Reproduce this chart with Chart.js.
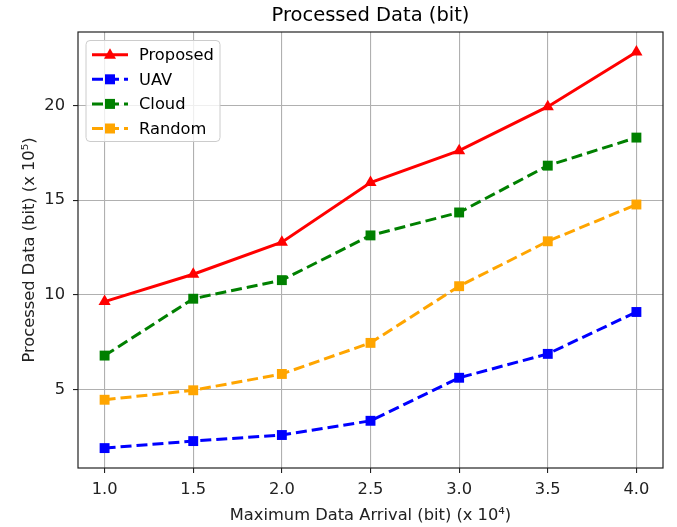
<!DOCTYPE html>
<html>
<head>
<meta charset="utf-8">
<script src="https://cdn.jsdelivr.net/npm/chart.js@4"></script>
<style>
  html, body { margin: 0; padding: 0; background: #fff; }
  #wrap { width: 677px; height: 527px; }
</style>
</head>
<body>
<div id="wrap"><canvas id="myChart"></canvas></div>
<script>
const xValues = [1.0, 1.5, 2.0, 2.5, 3.0, 3.5, 4.0];
const xTicks = [1.0, 1.5, 2.0, 2.5, 3.0, 3.5, 4.0];
const yTicks = [5, 10, 15, 20];

const proposed = [9.65, 11.09, 12.78, 15.93, 17.61, 19.93, 22.82];
const uav = [1.92, 2.29, 2.61, 3.36, 5.63, 6.89, 9.10];
const cloud = [6.80, 9.80, 10.78, 13.14, 14.35, 16.82, 18.30];
const random = [4.47, 4.97, 5.83, 7.47, 10.46, 12.83, 14.77];

const FONT = 'DejaVu Sans';
const FS = 16.3;

function pts(vals) {
  return vals.map((v, i) => ({ x: xValues[i], y: v }));
}

function series(label, vals, color, style, dash) {
  return {
    label: label,
    data: pts(vals),
    borderColor: color,
    backgroundColor: color,
    borderWidth: 3,
    borderDash: dash,
    pointStyle: style,
    pointRadius: 7,
    pointBorderWidth: 0,
    pointHoverRadius: 7,
    tension: 0,
  };
}

const data = {
  datasets: [
    series('Proposed', proposed, '#ff0000', 'triangle', []),
    series('UAV', uav, '#0000ff', 'rect', [11, 5]),
    series('Cloud', cloud, '#008000', 'rect', [11, 5]),
    series('Random', random, '#ffa500', 'rect', [11, 5]),
  ],
};

// axes box, title and matplotlib-style legend
const mplDecor = {
  id: 'mplDecor',
  afterDatasetsDraw(chart) {
    const { ctx, chartArea: { left, right, top, bottom } } = chart;
    ctx.save();
    ctx.strokeStyle = '#222';
    ctx.lineWidth = 1.2;
    ctx.strokeRect(left, top, right - left, bottom - top);

    ctx.fillStyle = '#000';
    ctx.font = '19.5px "' + FONT + '"';
    ctx.textAlign = 'center';
    ctx.textBaseline = 'middle';
    ctx.fillText('Processed Data (bit)', (left + right) / 2, 16);

    // legend
    const bx = 86, by = 40.5, bw = 134, bh = 101;
    ctx.beginPath();
    ctx.roundRect(bx, by, bw, bh, 4);
    ctx.fillStyle = 'rgba(255,255,255,0.8)';
    ctx.fill();
    ctx.strokeStyle = '#cccccc';
    ctx.lineWidth = 1;
    ctx.stroke();

    chart.data.datasets.forEach((ds, i) => {
      const y = 54.7 + i * 24.6;
      ctx.strokeStyle = ds.borderColor;
      ctx.lineWidth = ds.borderWidth;
      ctx.setLineDash(ds.borderDash);
      ctx.beginPath();
      ctx.moveTo(92, y);
      ctx.lineTo(128, y);
      ctx.stroke();
      ctx.setLineDash([]);
      ctx.fillStyle = ds.backgroundColor;
      const cx = 110;
      ctx.beginPath();
      if (ds.pointStyle === 'triangle') {
        ctx.moveTo(cx, y - 6.5);
        ctx.lineTo(cx + 6, y + 4);
        ctx.lineTo(cx - 6, y + 4);
        ctx.closePath();
      } else {
        ctx.rect(cx - 5, y - 5, 10, 10);
      }
      ctx.fill();
      ctx.fillStyle = '#000';
      ctx.font = FS + 'px "' + FONT + '"';
      ctx.textAlign = 'left';
      ctx.fillText(ds.label, 139, y + 1);
    });
    ctx.restore();
  },
};

const config = {
  type: 'line',
  data: data,
  options: {
    responsive: false,
    animation: false,
    devicePixelRatio: 1,
    layout: { padding: { top: 32, right: 14, bottom: 0, left: 0 } },
    plugins: {
      legend: { display: false },
      title: { display: false },
      tooltip: { enabled: false },
    },
    scales: {
      x: {
        type: 'linear',
        min: 0.85,
        max: 4.15,
        afterFit(scale) { scale.height = 59; },
        afterBuildTicks(scale) { scale.ticks = xTicks.map(v => ({ value: v })); },
        grid: { color: '#b0b0b0', lineWidth: 1.1, tickColor: '#222', tickLength: 5 },
        border: { display: false },
        ticks: {
          color: '#222',
          font: { family: FONT, size: FS },
          padding: 7,
          maxRotation: 0,
          callback: v => v.toFixed(1),
        },
        title: {
          display: true,
          text: 'Maximum Data Arrival (bit) (x 10\u2074)',
          color: '#222',
          font: { family: FONT, size: FS },
          padding: { top: 0, bottom: 1 },
        },
      },
      y: {
        min: 0.87,
        max: 23.87,
        afterFit(scale) { scale.width = 78; },
        afterBuildTicks(scale) { scale.ticks = yTicks.map(v => ({ value: v })); },
        grid: { color: '#b0b0b0', lineWidth: 1.1, tickColor: '#222', tickLength: 5 },
        border: { display: false },
        ticks: {
          color: '#222',
          font: { family: FONT, size: FS },
          padding: 8,
        },
        title: {
          display: true,
          text: 'Processed Data (bit) (x 10\u2075)',
          color: '#222',
          font: { family: FONT, size: FS },
          padding: { top: 20, bottom: 0 },
        },
      },
    },
  },
  plugins: [mplDecor],
};

const canvas = document.getElementById('myChart');
canvas.width = 677;
canvas.height = 527;
const myChart = new Chart(canvas, config);
</script>
</body>
</html>
